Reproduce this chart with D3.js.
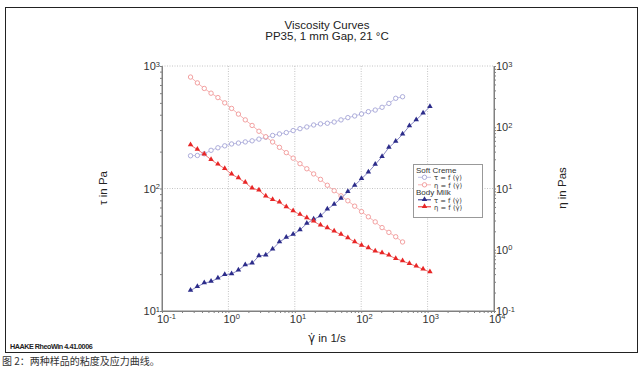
<!DOCTYPE html>
<meta charset="utf-8">
<style>
body { margin: 0; background: #fff; }
svg text { font-family: "Liberation Sans", Arial, sans-serif; fill: #333; }
</style>
<svg width="644" height="373"></svg>
<script src="https://d3js.org/d3.v7.min.js"></script>
<script>

// shear rate points (1/s), shared by both samples
var shearRate = [0.269, 0.341, 0.433, 0.548, 0.695, 0.881, 1.117, 1.416, 1.795, 2.275,
  2.884, 3.656, 4.634, 5.875, 7.447, 9.441, 11.97, 15.17, 19.23, 24.38,
  30.90, 39.17, 49.66, 62.95, 79.80, 101.2, 128.2, 162.6, 206.1, 261.2,
  331.1, 419.8, 532.1, 674.5, 855.1, 1084]

// Soft Creme (32 points)
var cremeTau = [185, 186, 192, 205, 215, 223, 231, 235, 240, 245,
  253, 262, 271, 279, 286, 297, 308, 318, 330, 337,
  341, 349, 363, 379, 391, 406, 424, 437, 460, 495, 545, 561]
var cremeEta = [660, 530, 430, 360, 305, 250, 203, 164, 132, 107,
  86, 70, 57.5, 47, 38.5, 31.3, 25.4, 21.0, 17.3, 14.1,
  11.3, 9.2, 7.6, 6.3, 5.15, 4.2, 3.45, 2.85, 2.3, 1.92, 1.63, 1.34]

// Body Milk (36 points)
var milkTau = [14.7, 15.8, 16.9, 17.4, 18.5, 19.8, 20.1, 21.5, 23.8, 24.5,
  28.2, 28.6, 32.0, 36.6, 39.8, 42.1, 45.9, 51.8, 56.1, 59.6,
  67.6, 74.2, 83.0, 94.0, 106, 120, 136, 157, 182, 216,
  242, 277, 324, 363, 411, 465]
var milkEta = [51.3, 43.2, 36.2, 29.6, 24.8, 21.1, 17.1, 14.8, 12.5, 10.07,
  9.35, 7.46, 6.59, 5.95, 4.99, 4.29, 3.75, 3.30, 2.91, 2.51,
  2.27, 2.00, 1.77, 1.56, 1.34, 1.18, 1.07, 0.944, 0.885, 0.811,
  0.716, 0.655, 0.594, 0.537, 0.480, 0.434]

var xTicks = [0.1, 1, 10, 100, 1000, 10000]
var tauTicks = [10, 100, 1000]
var etaTicks = [0.1, 1, 10, 100, 1000]

function pairs(vals) {
  return vals.map(function(v, i) { return [shearRate[i], v] })
}

var svg = d3.select("svg")

// outer frame
svg.append("rect")
  .attr("x", 5.5).attr("y", 7.5)
  .attr("width", 632).attr("height", 345)
  .attr("fill", "white").attr("stroke", "#222")

var pLeft = 162, pRight = 494, pTop = 66, pBottom = 311

var x = d3.scaleLog().domain([0.1, 10000]).range([pLeft, pRight])
var yL = d3.scaleLog().domain([10, 1000]).range([pBottom, pTop])
var yR = d3.scaleLog().domain([0.1, 1000]).range([pBottom, pTop])

// titles
svg.append("text").attr("x", 327).attr("y", 29).attr("text-anchor", "middle")
  .style("font-size", "11.5px").style("fill", "#222").text("Viscosity Curves")
svg.append("text").attr("x", 327).attr("y", 40).attr("text-anchor", "middle")
  .style("font-size", "11.5px").style("fill", "#222").text("PP35, 1 mm Gap, 21 °C")

// grid
var grid = svg.append("g").attr("stroke", "#c4c4c4").attr("stroke-dasharray", "1,1.5")
grid.selectAll("line.v").data([1, 10, 100, 1000]).enter().append("line")
  .attr("x1", function(d) { return x(d) }).attr("x2", function(d) { return x(d) })
  .attr("y1", pTop).attr("y2", pBottom)
grid.selectAll("line.h").data([100, 1000]).enter().append("line")
  .attr("x1", pLeft).attr("x2", pRight)
  .attr("y1", function(d) { return yL(d) }).attr("y2", function(d) { return yL(d) })

// superscript labels
function powLabel(sel, xoff) {
  sel.selectAll(".tick text").each(function(d) {
    var t = d3.select(this)
    var e = Math.round(Math.log10(d))
    t.text("10")
    if (xoff !== undefined) t.attr("x", xoff)
    t.append("tspan").attr("dy", "-0.45em").style("font-size", "7.5px").text(e)
  })
  sel.selectAll(".tick text").style("font-size", "11px").style("fill", "#333")
}

function styleAxis(g) {
  g.select(".domain").attr("stroke", "#808080")
  g.selectAll(".tick line").attr("stroke", "#808080")
}

// minor ticks
svg.append("g").attr("transform", "translate(" + pLeft + ",0)")
  .call(d3.axisLeft(yL).ticks(10).tickSize(2).tickFormat(""))
  .call(styleAxis)
svg.append("g").attr("transform", "translate(" + pRight + ",0)")
  .call(d3.axisRight(yR).ticks(10).tickSize(2).tickFormat(""))
  .call(styleAxis)
svg.append("g").attr("transform", "translate(0," + pBottom + ")")
  .call(d3.axisBottom(x).ticks(10).tickSize(2).tickFormat(""))
  .call(styleAxis)

// major labels
svg.append("g").attr("transform", "translate(" + pLeft + ",0)")
  .call(d3.axisLeft(yL).tickValues(tauTicks).tickSize(0).tickPadding(2).tickFormat(d3.format("")))
  .call(function(g) { g.select(".domain").remove() })
  .call(powLabel)
svg.append("g").attr("transform", "translate(" + pRight + ",0)")
  .call(d3.axisRight(yR).tickValues(etaTicks).tickSize(0).tickPadding(2).tickFormat(d3.format("")))
  .call(function(g) { g.select(".domain").remove() })
  .call(powLabel)
var xg = svg.append("g").attr("transform", "translate(0," + pBottom + ")")
  .call(d3.axisBottom(x).tickValues(xTicks).tickSize(0).tickPadding(4).tickFormat(d3.format("")))
  .call(function(g) { g.select(".domain").remove() })
  .call(powLabel, -5.5)
xg.selectAll(".tick text").attr("text-anchor", "start")

// axis titles
svg.append("text").attr("transform", "translate(107,188)rotate(-90)")
  .attr("text-anchor", "middle").style("font-size", "11.5px").style("fill", "#222").text("τ in Pa")
svg.append("text").attr("transform", "translate(566,188)rotate(-90)")
  .attr("text-anchor", "middle").style("font-size", "11.5px").style("fill", "#222").text("η in Pas")
var xt = svg.append("text").attr("x", 327).attr("y", 342).attr("text-anchor", "middle")
  .style("font-size", "11.5px").style("fill", "#222")
xt.append("tspan").style("font-family", "'DejaVu Sans', sans-serif").text("γ̇")
xt.append("tspan").text(" in 1/s")

var series = [
  { name: "creme tau", data: pairs(cremeTau), y: yL, line: "#c2c2e6", mark: "#a4a4d6", shape: "circle" },
  { name: "creme eta", data: pairs(cremeEta), y: yR, line: "#f6b4b4", mark: "#f09696", shape: "circle" },
  { name: "milk tau", data: pairs(milkTau), y: yL, line: "#8a8ac4", mark: "#2c2c8a", shape: "tri" },
  { name: "milk eta", data: pairs(milkEta), y: yR, line: "#f07a7a", mark: "#e82626", shape: "tri" }
]

var tri = d3.symbol().type(d3.symbolTriangle).size(13)

series.forEach(function(s) {
  svg.append("path")
    .datum(s.data)
    .attr("fill", "none")
    .attr("stroke", s.line)
    .attr("stroke-width", 1)
    .attr("d", d3.line()
      .x(function(d) { return x(d[0]) })
      .y(function(d) { return s.y(d[1]) }))

  var pts = svg.append("g").selectAll("g").data(s.data).enter()
  if (s.shape == "circle") {
    pts.append("circle")
      .attr("cx", function(d) { return x(d[0]) })
      .attr("cy", function(d) { return s.y(d[1]) })
      .attr("r", 2.2)
      .attr("fill", "white")
      .attr("stroke", s.mark)
      .attr("stroke-width", 0.9)
  } else {
    pts.append("path")
      .attr("d", tri)
      .attr("transform", function(d) { return "translate(" + x(d[0]) + "," + (s.y(d[1]) - 0.3) + ")" })
      .attr("fill", s.mark)
  }
})

// axis frame lines on top
svg.append("line").attr("x1", pLeft).attr("x2", pLeft).attr("y1", pTop).attr("y2", pBottom).attr("stroke", "#808080")
svg.append("line").attr("x1", pRight).attr("x2", pRight).attr("y1", pTop).attr("y2", pBottom).attr("stroke", "#808080")
svg.append("line").attr("x1", pLeft).attr("x2", pRight).attr("y1", pBottom).attr("y2", pBottom).attr("stroke", "#808080")

// legend
var lg = svg.append("g")
lg.append("rect").attr("x", 413.5).attr("y", 164.5).attr("width", 69).attr("height", 53)
  .attr("fill", "white").attr("stroke", "#999")
var legendRows = [
  { label: "Soft Creme", y: 173 },
  { label: "τ = f (γ̇)", y: 180, s: series[0] },
  { label: "η = f (γ̇)", y: 187.5, s: series[1] },
  { label: "Body Milk", y: 195 },
  { label: "τ = f (γ̇)", y: 202.5, s: series[2] },
  { label: "η = f (γ̇)", y: 209.5, s: series[3] }
]
legendRows.forEach(function(r) {
  if (!r.s) {
    lg.append("text").attr("x", 416).attr("y", r.y).style("font-size", "8px").text(r.label)
    return
  }
  var cy = r.y - 2.7
  lg.append("line").attr("x1", 418).attr("x2", 431).attr("y1", cy).attr("y2", cy)
    .attr("stroke", r.s.shape == "tri" ? r.s.mark : r.s.line)
  if (r.s.shape == "circle") {
    lg.append("circle").attr("cx", 424.5).attr("cy", cy).attr("r", 2.2)
      .attr("fill", "white").attr("stroke", r.s.mark).attr("stroke-width", 0.9)
  } else {
    lg.append("path").attr("d", tri).attr("transform", "translate(424.5," + (cy - 0.3) + ")").attr("fill", r.s.mark)
  }
  lg.append("text").attr("x", 434).attr("y", r.y).style("font-size", "7.5px")
    .style("font-family", "'DejaVu Sans', sans-serif").style("font-size", "6.8px").text(r.label)
})

// footer
svg.append("text").attr("x", 10).attr("y", 348.5)
  .style("font-size", "7.2px").style("font-weight", "bold").style("letter-spacing", "-0.45px")
  .style("fill", "#222").text("HAAKE RheoWin 4.41.0006")

svg.append("text").attr("x", 2).attr("y", 364.5)
  .style("font-family", "'Noto Sans CJK SC', sans-serif").style("font-size", "10px").style("fill", "#333")
  .text("图 2：两种样品的粘度及应力曲线。")

</script>
